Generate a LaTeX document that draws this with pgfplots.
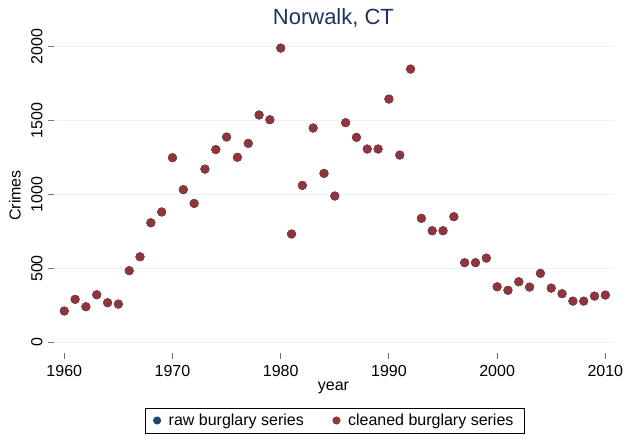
\documentclass[border=0pt]{standalone}
\usepackage{fontspec}
\setmainfont{Liberation Sans}
\usepackage{pgfplots}
\pgfplotsset{compat=1.18}
\usepackage{pgfplotstable}

\definecolor{stnavy}{RGB}{26,71,111}
\definecolor{stmaroon}{RGB}{144,53,59}
\definecolor{sttitle}{RGB}{30,50,95}
\definecolor{stgrid}{RGB}{234,242,243}

% burglaries per year, Norwalk CT
\pgfplotstableread{
year crimes
1960 212
1961 291
1962 241
1963 322
1964 268
1965 259
1966 485
1967 579
1968 809
1969 882
1970 1249
1971 1033
1972 940
1973 1172
1974 1304
1975 1389
1976 1252
1977 1346
1978 1538
1979 1506
1980 1991
1981 733
1982 1062
1983 1450
1984 1143
1985 990
1986 1486
1987 1387
1988 1308
1989 1308
1990 1646
1991 1267
1992 1849
1993 839
1994 755
1995 755
1996 850
1997 539
1998 539
1999 570
2000 376
2001 352
2002 410
2003 374
2004 467
2005 367
2006 329
2007 279
2008 279
2009 313
2010 320
}\burglary

\begin{document}
\begin{tikzpicture}
\useasboundingbox (0,0) rectangle (625bp,439bp);
\begin{axis}[
  at={(54bp,86bp)}, anchor=south west,
  scale only axis, width=560bp, height=315bp,
  xmin=1959.05, xmax=2010.8,
  ymin=-72, ymax=2059,
  xtick={1960,1970,...,2010},
  ytick={0,500,...,2000},
  axis line style={draw=none},
  tick align=outside,
  major tick length=6bp,
  tick style={black!55, line width=1.1bp},
  xtick pos=bottom, ytick pos=left,
  ymajorgrids,
  grid style={stgrid, line width=1.2bp},
  /pgf/number format/1000 sep={},
  /pgf/number format/assume math mode=true,
  tick label style={font=\fontsize{16bp}{19bp}\selectfont},
  yticklabel style={rotate=90, anchor=south},
  yticklabel shift=2bp,
  xticklabel shift=3bp,
  title={Norwalk, CT},
  title style={font=\fontsize{22bp}{26bp}\selectfont, text=sttitle,
    at={(axis description cs:0.499,1.0445)}, anchor=center},
  xlabel={year},
  xlabel style={font=\fontsize{16bp}{19bp}\selectfont,
    at={(axis description cs:0.499,-0.111)}, anchor=center},
  ylabel={Crimes},
  ylabel style={font=\fontsize{16bp}{19bp}\selectfont,
    at={(axis description cs:-0.0696,0.5)}, anchor=center, rotate=0},
  legend columns=2,
  legend style={at={(axis description cs:0.5009,-0.2143)}, anchor=center,
    draw=black, line width=0.8bp,
    font=\fontsize{16bp}{19bp}\selectfont,
    inner xsep=8.5bp, inner ysep=4bp,
    /tikz/every odd column/.append style={column sep=6bp},
    /tikz/every even column/.append style={column sep=27bp}},
  legend image code/.code={\draw[#1, mark size=3.6bp] plot coordinates {(0bp,0bp)};},
  clip=false,
]
  \addplot[only marks, mark=*, mark size=4.3bp, color=stnavy] table[x=year, y=crimes] {\burglary};
  \addlegendentry{raw burglary series}
  \addplot[only marks, mark=*, mark size=4.3bp, color=stmaroon] table[x=year, y=crimes] {\burglary};
  \addlegendentry{cleaned burglary series}
\end{axis}
\end{tikzpicture}
\end{document}
